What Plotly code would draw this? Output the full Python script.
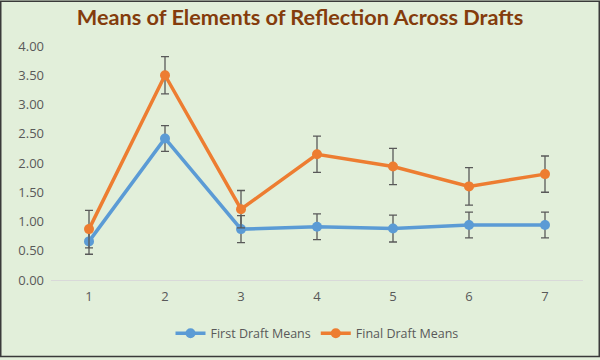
import plotly.graph_objects as go

categories = ["1", "2", "3", "4", "5", "6", "7"]
first_means = [0.66, 2.42, 0.87, 0.91, 0.88, 0.94, 0.94]
first_err = [0.22, 0.22, 0.23, 0.22, 0.23, 0.22, 0.22]
final_means = [0.87, 3.50, 1.21, 2.15, 1.94, 1.60, 1.81]
final_err = [0.32, 0.32, 0.32, 0.31, 0.31, 0.32, 0.31]
y_ticks = [0, 0.5, 1, 1.5, 2, 2.5, 3, 3.5, 4]
y_tick_labels = ["0.00", "0.50", "1.00", "1.50", "2.00", "2.50", "3.00", "3.50", "4.00"]

W, H = 600, 360
ML, MR, MT, MB = 51, 17, 46, 78
pw, ph = W - ML - MR, H - MT - MB

fig = go.Figure()
for name, ys, err, col in [
    ("First Draft Means", first_means, first_err, "#5b9bd5"),
    ("Final Draft Means", final_means, final_err, "#ed7d31"),
]:
    fig.add_trace(go.Scatter(
        x=categories, y=ys, name=name, mode="lines+markers",
        line=dict(color=col, width=3.5),
        marker=dict(color=col, size=10),
        error_y=dict(type="data", array=err, visible=True, color="#595959", thickness=1.3, width=4),
    ))

fig.update_layout(
    width=W, height=H,
    margin=dict(l=ML, r=MR, t=MT, b=MB),
    paper_bgcolor="#e2efda", plot_bgcolor="#e2efda",
    title=dict(text="<b>Means of Elements of Reflection Across Drafts</b>",
               font=dict(family="Lato", size=21.7, color="#843c0c"),
               x=0.5, xanchor="center", y=0.953, yanchor="middle"),
    font=dict(family="Open Sans", color="#595959", size=13),
    xaxis=dict(type="category", showline=True, linecolor="#d9d9d9", linewidth=1,
               showgrid=False, ticks="", tickfont=dict(size=13, color="#595959"),
               ticklabelstandoff=4, range=[-0.5, 6.5]),
    yaxis=dict(range=[0, 4], tickvals=y_ticks, ticktext=y_tick_labels,
               showgrid=False, zeroline=False, showline=False,
               tickfont=dict(size=13, color="#595959"), ticklabelstandoff=6),
    legend=dict(orientation="h", x=0.5, xanchor="center", y=-0.229, yanchor="middle",
                itemwidth=30, font=dict(size=12.5, color="#595959"), bgcolor="rgba(0,0,0,0)"),
    showlegend=True,
)
fig.add_shape(type="rect", xref="paper", yref="paper",
              x0=-(ML - 0.75) / pw, x1=1 + (MR - 0.75) / pw,
              y0=-(MB - 0.75) / ph, y1=1 + (MT - 0.75) / ph,
              line=dict(color="#3a3a3a", width=1.5), layer="above")

fig.write_html("out.html", config={"displayModeBar": False},
               post_script="document.documentElement.style.margin='0';document.body.style.margin='0';document.body.style.overflow='hidden';")
